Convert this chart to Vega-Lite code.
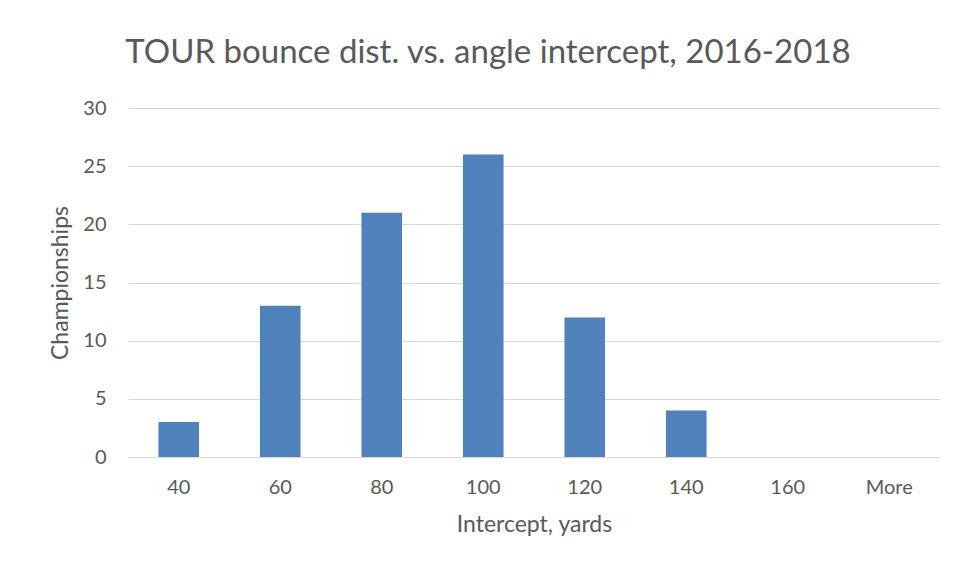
{
  "$schema": "https://vega.github.io/schema/vega-lite/v6.json",
  "width": 812,
  "height": 349,
  "autosize": {"type": "none"},
  "padding": {"left": 128, "top": 108, "right": 19, "bottom": 113},
  "background": "white",
  "title": {
    "text": "TOUR bounce dist. vs. angle intercept, 2016-2018",
    "font": "Lato",
    "fontSize": 33,
    "fontWeight": "normal",
    "color": "#595959",
    "anchor": "middle",
    "dx": -46,
    "offset": 28
  },
  "data": {
    "values": [
      {"bin": "40", "count": 3},
      {"bin": "60", "count": 13},
      {"bin": "80", "count": 21},
      {"bin": "100", "count": 26},
      {"bin": "120", "count": 12},
      {"bin": "140", "count": 4},
      {"bin": "160", "count": 0},
      {"bin": "More", "count": 0}
    ]
  },
  "mark": {"type": "bar", "color": "#4F81BD"},
  "encoding": {
    "x": {
      "field": "bin",
      "type": "nominal",
      "sort": null,
      "scale": {"paddingInner": 0.6, "paddingOuter": 0.3},
      "axis": {
        "title": "Intercept, yards",
        "labelAngle": 0,
        "labelFont": "Lato",
        "labelFontSize": 20,
        "labelColor": "#595959",
        "labelPadding": 20,
        "ticks": false,
        "domainColor": "#d9d9d9",
        "titleFont": "Lato",
        "titleFontSize": 23,
        "titleFontWeight": "normal",
        "titleColor": "#595959",
        "titlePadding": 16
      }
    },
    "y": {
      "field": "count",
      "type": "quantitative",
      "scale": {"domain": [0, 30]},
      "axis": {
        "title": "Championships",
        "values": [0, 5, 10, 15, 20, 25, 30],
        "labelFont": "Lato",
        "labelFontSize": 20,
        "labelColor": "#595959",
        "labelPadding": 22,
        "ticks": false,
        "domain": false,
        "gridColor": "#d9d9d9",
        "titleFont": "Lato",
        "titleFontSize": 23,
        "titleFontWeight": "normal",
        "titleColor": "#595959",
        "titlePadding": 10
      }
    }
  },
  "config": {"view": {"stroke": null}}
}
